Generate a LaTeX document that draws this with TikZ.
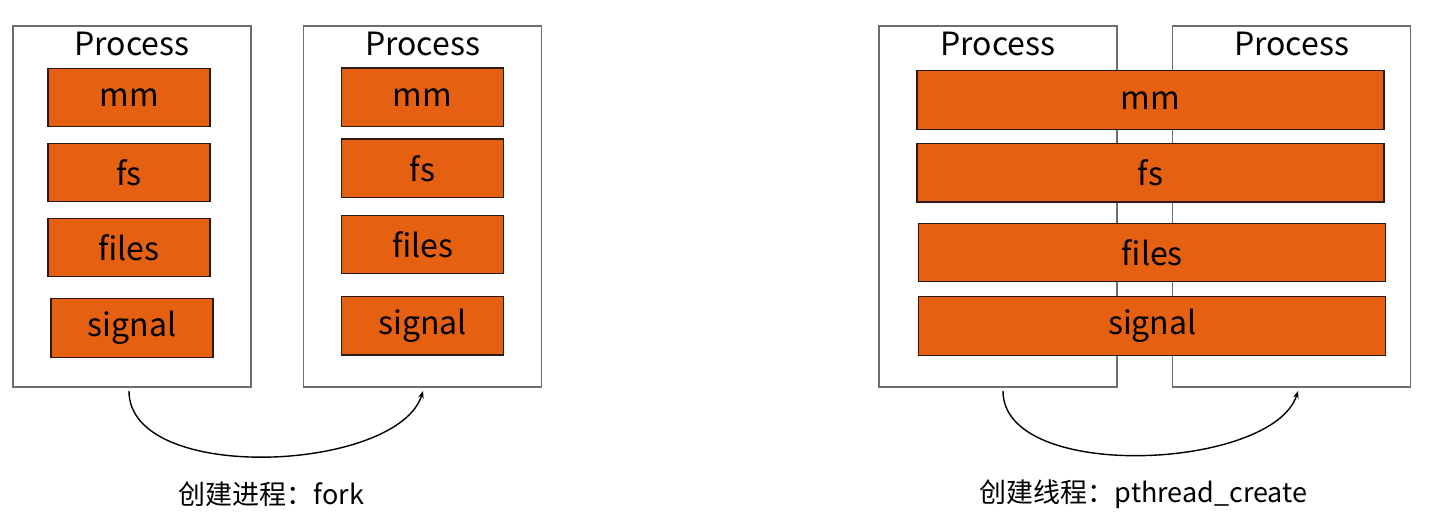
\documentclass[tikz,border=0pt]{standalone}
\usepackage{fontspec}
\setmainfont{Noto Sans CJK SC}
\usetikzlibrary{arrows.meta}
\definecolor{orng}{HTML}{E66012}
\definecolor{boxgray}{HTML}{6E6E6E}
\definecolor{edgedark}{HTML}{2A1A10}
\begin{document}
\begin{tikzpicture}[x=0.5pt,y=-0.5pt,
  procbox/.style={draw=boxgray, line width=0.75pt, fill=white, inner sep=0pt,
    minimum width=119pt, minimum height=180.5pt},
  res/.style={draw=edgedark, fill=orng, line width=0.6pt, inner sep=0pt,
    minimum height=29.3pt, font=\fontsize{16}{18}\selectfont},
  ptitle/.style={inner sep=0pt, font=\fontsize{16}{18}\selectfont},
  captext/.style={inner sep=0pt, font=\fontsize{13.5}{16}\selectfont},
  arcline/.style={-{Stealth[length=3.6pt,width=2.8pt]}, line width=0.7pt, draw=black}]
\useasboundingbox (0,0) rectangle (1434,524);
\fill[white] (0,0) rectangle (1434,524);

% ---- fork: two separate processes
\node[procbox] (p1) at (132,206.5) {};
\node[procbox] (p2) at (422.5,206.5) {};
\node[ptitle] (t1) at (132,44) {Process};
\node[ptitle] (t2) at (422.5,44) {Process};

\node[res, minimum width=81pt] (mm1) at (129,97.5) {mm};
\node[res, minimum width=81pt] (fs1) at (129,172.5) {fs};
\node[res, minimum width=81pt] (files1) at (129,247.5) {files};
\node[res, minimum width=81pt] (sig1) at (132,328) {signal};

\node[res, minimum width=81pt] (mm2) at (422.5,97.3) {mm};
\node[res, minimum width=81pt] (fs2) at (422.5,168.3) {fs};
\node[res, minimum width=81pt] (files2) at (422.5,244.5) {files};
\node[res, minimum width=81pt] (sig2) at (422.5,325.7) {signal};

\coordinate (a1s) at (129,391);
\coordinate (a1e) at (423,391);
\draw[arcline] (a1s) .. controls (129,485) and (398,472) .. (a1e);
\node[captext] (c1) at (271.5,494) {创建进程：fork};

% ---- pthread_create: shared resources
\node[procbox] (p3) at (998,206.5) {};
\node[procbox] (p4) at (1291.5,206.5) {};
\node[ptitle] (t3) at (998,44) {Process};
\node[ptitle] (t4) at (1291.5,44) {Process};

\node[res, minimum width=233.5pt] (mm3) at (1150.5,100.2) {mm};
\node[res, minimum width=233.5pt] (fs3) at (1150.5,172.7) {fs};
\node[res, minimum width=233.5pt] (files3) at (1152.3,252.5) {files};
\node[res, minimum width=233.5pt] (sig3) at (1152.3,325.8) {signal};

\coordinate (a2s) at (1003,391);
\coordinate (a2e) at (1298,391);
\draw[arcline] (a2s) .. controls (1003,483) and (1273,470) .. (a2e);
\node[captext] (c2) at (1143.5,494) {创建线程：pthread\_create};
\end{tikzpicture}
\end{document}
